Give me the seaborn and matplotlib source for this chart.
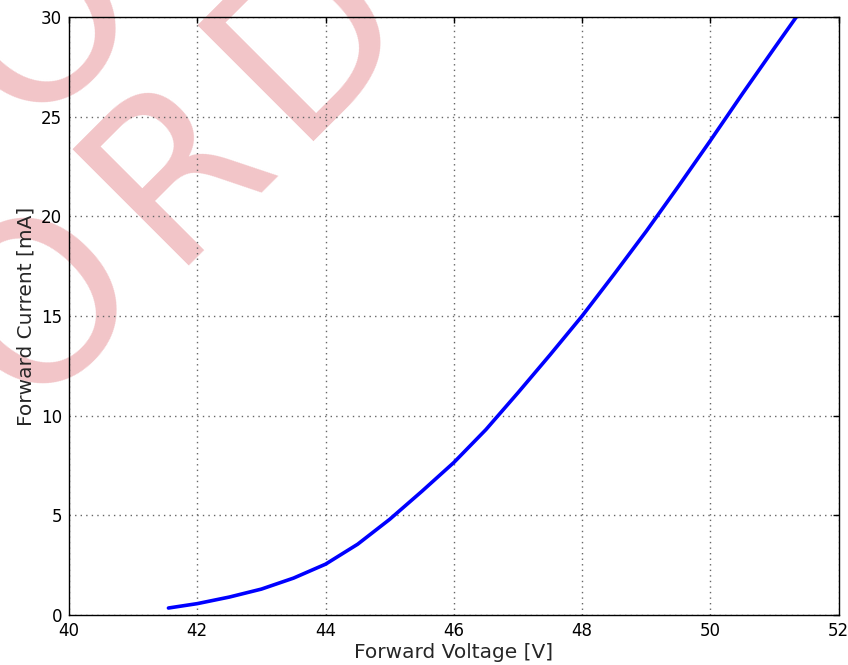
import matplotlib
matplotlib.use("Agg")
import matplotlib.pyplot as plt
import seaborn as sns

# forward voltage [V] vs forward current [mA]
voltage = [41.55, 42.0, 42.5, 43.0, 43.5, 44.0, 44.5, 45.0, 45.5, 46.0,
           46.5, 47.0, 47.5, 48.0, 48.5, 49.0, 49.5, 50.0, 50.5, 51.0, 51.34]
current = [0.35, 0.57, 0.9, 1.3, 1.85, 2.55, 3.55, 4.8, 6.2, 7.65,
           9.3, 11.15, 13.05, 15.0, 17.1, 19.25, 21.5, 23.8, 26.15, 28.45, 30.0]

x_ticks = [40, 42, 44, 46, 48, 50, 52]
y_ticks = [0, 5, 10, 15, 20, 25, 30]

sns.set_style("white")
plt.rcParams["font.family"] = ["DejaVu Sans"]

fig = plt.figure(figsize=(8.48, 6.65), dpi=100)
ax = fig.add_axes([0.0814, 0.0752, 0.9076, 0.8993])
ax.set_facecolor("none")

# watermark letters behind the axes
wm = dict(fontsize=161, color="#f2c5c8", rotation=45, rotation_mode="anchor",
          ha="left", va="baseline", zorder=-5, family="DejaVu Sans")
fig.text(0.0307, 0.3805, "O", **wm)
fig.text(0.1969, 0.6015, "R", **wm)
fig.text(0.3440, 0.7880, "D", **wm)
fig.text(0.0295, 0.803, "O", **wm)

sns.lineplot(x=voltage, y=current, ax=ax, color="blue", linewidth=2.6,
             sort=True, estimator=None)

ax.set_xlim(40, 52)
ax.set_ylim(0, 30)
ax.set_xticks(x_ticks)
ax.set_yticks(y_ticks)
ax.tick_params(direction="in", length=4, width=1, top=True, right=True,
               labelsize=12, colors="black", pad=5)
ax.grid(True, color="0.4", linestyle=(0, (1, 3)), linewidth=1.0)
for s in ax.spines.values():
    s.set_visible(True)
    s.set_color("black")
    s.set_linewidth(1.0)

ax.set_xlabel("Forward Voltage [V]", fontsize=14.5, labelpad=2)
ax.set_ylabel("Forward Current [mA]", fontsize=14.5, labelpad=4)

fig.savefig("out.png", dpi=100, facecolor="white")
